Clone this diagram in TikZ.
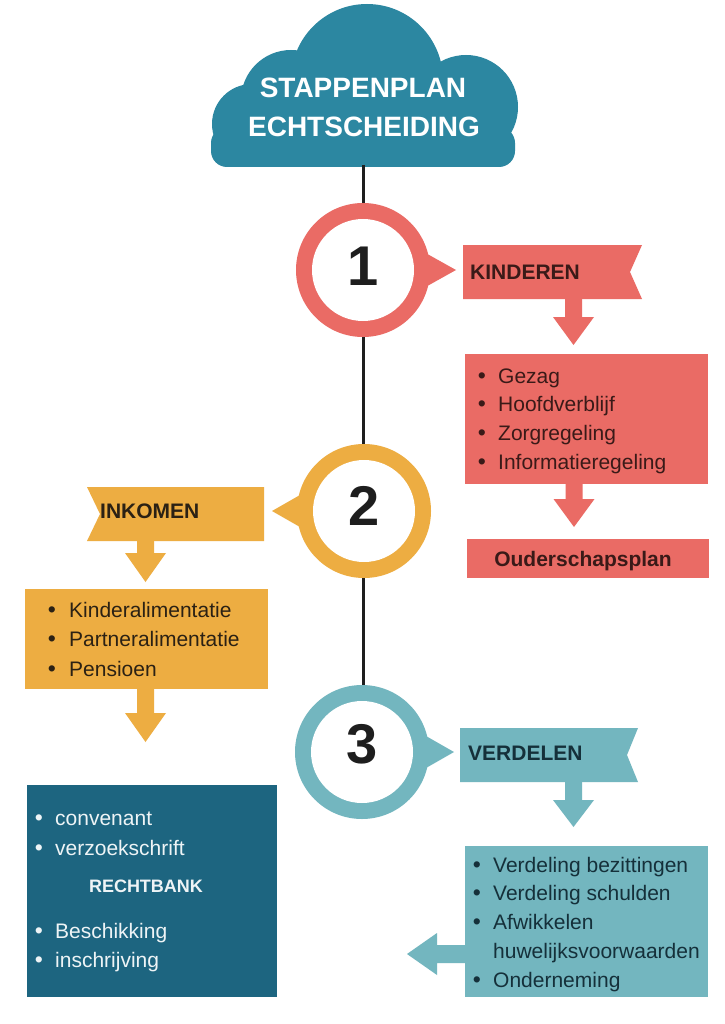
\documentclass[tikz,border=0pt]{standalone}
\usepackage{fontspec}
\setmainfont{Liberation Sans}
\definecolor{cloudc}{HTML}{2C87A1}
\definecolor{salmon}{HTML}{EA6B65}
\definecolor{ochre}{HTML}{EDAD42}
\definecolor{lteal}{HTML}{73B6BF}
\definecolor{dteal}{HTML}{1D6580}
\definecolor{ink}{HTML}{1E1E1E}
\definecolor{redtxt}{HTML}{3A1A18}
\definecolor{yeltxt}{HTML}{2B2114}
\definecolor{teatxt}{HTML}{15303A}
\definecolor{lighttxt}{HTML}{EEF4F6}
\newcommand\blockdown[5]{%
  \fill[#5] (#1-8.5,#2) -- (#1+8.5,#2) -- (#1+8.5,#3) -- (#1+20.5,#3) -- (#1,#4) -- (#1-20.5,#3) -- (#1-8.5,#3) -- cycle;}
\begin{document}
\begin{tikzpicture}[x=1pt,y=-1pt,
  lbl/.style={font=\fontsize{21}{25}\selectfont\bfseries, inner sep=0pt},
  item/.style={font=\fontsize{21}{25}\selectfont, inner sep=0pt, anchor=base west},
  bul/.style={font=\fontsize{23}{25}\selectfont, inner sep=0pt, anchor=base},
  digit/.style={font=\fontsize{56}{60}\selectfont\bfseries, text=ink, inner sep=0pt, anchor=base},
  hole/.style={circle, fill=white, minimum size=102pt, inner sep=0pt},
  title/.style={font=\fontsize{28}{32}\selectfont\bfseries, text=white, anchor=base, inner sep=0pt},
]
\useasboundingbox (0,0) rectangle (724,1024);
\fill[white] (0,0) rectangle (724,1024);

% cloud
\fill[cloudc] (252,124) circle[radius=40pt] (291,100) circle[radius=50pt]
  (367,80) circle[radius=76pt] (466,107) circle[radius=52pt];
\fill[cloudc, rounded corners=16pt] (211,127) rectangle (515,167);
\node[title] (t1) at (363,98) {STAPPENPLAN};
\node[title] (t2) at (364,137) {ECHTSCHEIDING};

% spine
\coordinate (spinetop) at (363,165);
\coordinate (spinebot) at (363,700);
\draw[ink, line width=3pt] (spinetop) -- (spinebot);

% step 1
\fill[salmon] (363,270) circle[radius=67pt];
\fill[salmon] (413,246) -- (456,270) -- (413,294) -- cycle;
\node[hole] (c1) at (363,270) {};
\node[digit] (n1) at (363,285) {1};
\fill[salmon] (463,245) -- (642,245) -- (630,272) -- (642,299) -- (463,299) -- cycle;
\node[lbl, text=redtxt, anchor=base west] (kind) at (470,279) {KINDEREN};
\blockdown{573.5}{298}{317}{345}{salmon}
\fill[salmon] (465,354) rectangle (708,484);
\foreach \t [count=\i from 0] in {Gezag,Hoofdverblijf,Zorgregeling,Informatieregeling}{
  \node[item, text=redtxt] (kid\i) at (498,{383+28.7*\i}) {\t};
  \node[bul, text=redtxt] (kidb\i) at (482,{383+28.7*\i}) {\textbullet};
}
\blockdown{574}{483}{499}{527}{salmon}
\fill[salmon] (467,539) rectangle (709,578);
\node[lbl, text=redtxt, anchor=base] (oud) at (583,566) {Ouderschapsplan};

% step 2
\fill[ochre] (364,511) circle[radius=67pt];
\fill[ochre] (314,487) -- (272,511) -- (314,535) -- cycle;
\node[hole] (c2) at (364,511) {};
\node[digit] (n2) at (364,525) {2};
\fill[ochre] (87,487) -- (264,487) -- (264,541) -- (87,541) -- (100,514) -- cycle;
\node[lbl, text=yeltxt, anchor=base west] (ink2) at (100,518) {INKOMEN};
\blockdown{145.5}{540}{553}{582}{ochre}
\fill[ochre] (25,589) rectangle (268,689);
\foreach \t [count=\i from 0] in {Kinderalimentatie,Partneralimentatie,Pensioen}{
  \node[item, text=yeltxt] (ink\i) at (69,{617+29.5*\i}) {\t};
  \node[bul, text=yeltxt] (inkb\i) at (52,{617+29.5*\i}) {\textbullet};
}
\blockdown{145.5}{688}{713}{742}{ochre}

% step 3
\fill[lteal] (362,752) circle[radius=67pt];
\fill[lteal] (412,728) -- (454,752) -- (412,776) -- cycle;
\node[hole] (c3) at (362,752) {};
\node[digit] (n3) at (362,763) {3};
\fill[lteal] (460,728) -- (638,728) -- (627,755) -- (638,782) -- (460,782) -- cycle;
\node[lbl, text=teatxt, anchor=base west] (ver) at (468,760) {VERDELEN};
\blockdown{573.5}{781}{800}{827}{lteal}
\fill[lteal] (465,846) rectangle (708,997);
\foreach \t [count=\i from 0] in {Verdeling bezittingen,Verdeling schulden,Afwikkelen,huwelijksvoorwaarden,Onderneming}{
  \node[item, text=teatxt] (ver\i) at (493,{872+28.75*\i}) {\t};
}
\foreach \i in {0,1,2,4}{
  \node[bul, text=teatxt] (verb\i) at (477,{872+28.75*\i}) {\textbullet};
}
\fill[lteal] (466,945) -- (437,945) -- (437,933) -- (407,954) -- (437,975) -- (437,963) -- (466,963) -- cycle;

% final box
\fill[dteal] (27,785) rectangle (277,997);
\node[item, text=lighttxt] (f1) at (55,825) {convenant};
\node[bul, text=lighttxt] (fb1) at (39,825) {\textbullet};
\node[item, text=lighttxt] (f2) at (55,855) {verzoekschrift};
\node[bul, text=lighttxt] (fb2) at (39,855) {\textbullet};
\node[font=\fontsize{18}{22}\selectfont\bfseries, text=lighttxt, anchor=base, inner sep=0pt] (rb) at (146,892) {RECHTBANK};
\node[item, text=lighttxt] (f3) at (55,938) {Beschikking};
\node[bul, text=lighttxt] (fb3) at (39,938) {\textbullet};
\node[item, text=lighttxt] (f4) at (55,967) {inschrijving};
\node[bul, text=lighttxt] (fb4) at (39,967) {\textbullet};
\end{tikzpicture}
\end{document}
